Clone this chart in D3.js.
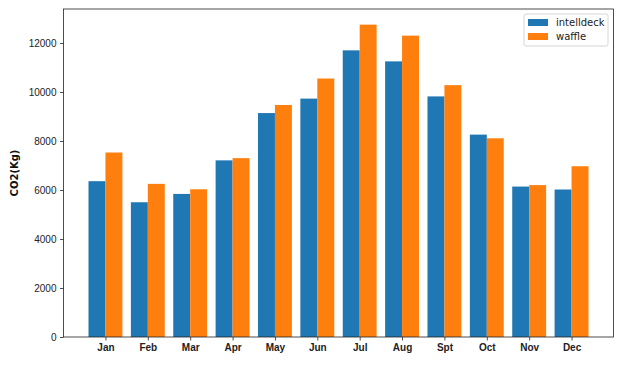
<!DOCTYPE html>
<html>
<head>
<meta charset="utf-8">
<script src="https://cdn.jsdelivr.net/npm/d3@7"></script>
<style>
  body { margin: 0; background: #fff; }
  svg { display: block; font-family: "DejaVu Sans", sans-serif; }
</style>
</head>
<body>
<div id="chart"></div>
<script>
const months = ["Jan", "Feb", "Mar", "Apr", "May", "Jun", "Jul", "Aug", "Spt", "Oct", "Nov", "Dec"];
const intelldeck = [6360, 5500, 5840, 7210, 9140, 9730, 11700, 11250, 9820, 8260, 6140, 6020];
const waffle = [7530, 6250, 6030, 7300, 9470, 10550, 12750, 12300, 10280, 8110, 6200, 6970];
const yTicks = [0, 2000, 4000, 6000, 8000, 10000, 12000];
const seriesNames = ["intelldeck", "waffle"];
const colors = ["#1f77b4", "#ff7f0e"];

const width = 625, height = 383;
const margin = { left: 63.5, right: 11.5, top: 9, bottom: 46 };
const barW = 0.4;

const svg = d3.select("#chart").append("svg")
    .attr("width", width).attr("height", height);

// matplotlib: 5% de marge autour des données
const xMin = -barW, xMax = months.length - 1 + barW;
const xPad = (xMax - xMin) * 0.05;
const x = d3.scaleLinear()
    .domain([xMin - xPad, xMax + xPad])
    .range([margin.left, width - margin.right]);

const yMaxData = d3.max(intelldeck.concat(waffle));
const y = d3.scaleLinear()
    .domain([0, yMaxData * 1.05])
    .range([height - margin.bottom, margin.top]);

const g = svg.append("g");

// --- BARRES ---
[intelldeck, waffle].forEach((vals, s) => {
    g.append("g").selectAll("rect").data(vals).join("rect")
        .attr("x", (d, i) => x(i + (s === 0 ? -barW : 0)))
        .attr("width", x(barW) - x(0))
        .attr("y", d => y(d))
        .attr("height", d => y(0) - y(d))
        .attr("fill", colors[s]);
});

// --- AXES ---
const yAxis = d3.axisLeft(y).tickValues(yTicks).tickSize(3.5).tickPadding(3.5).tickFormat(d3.format("d"));
const xAxis = d3.axisBottom(x).tickValues(d3.range(months.length)).tickSize(3.5).tickPadding(3.5)
    .tickFormat(i => months[i]);

const ya = svg.append("g").attr("transform", `translate(${margin.left},0)`).call(yAxis);
const xa = svg.append("g").attr("transform", `translate(0,${height - margin.bottom})`).call(xAxis);

[ya, xa].forEach(a => {
    a.select(".domain").remove();
    a.selectAll(".tick line").attr("stroke", "#222").attr("stroke-width", 0.8);
    a.selectAll(".tick text").attr("fill", "#222").style("font-size", "10px");
});
xa.selectAll(".tick text").style("font-weight", "bold");

// cadre
svg.append("rect")
    .attr("x", margin.left).attr("y", margin.top)
    .attr("width", width - margin.left - margin.right)
    .attr("height", height - margin.top - margin.bottom)
    .attr("fill", "none").attr("stroke", "#222").attr("stroke-width", 0.8);

// titre axe Y
svg.append("text")
    .attr("transform", `translate(18,${(margin.top + height - margin.bottom) / 2}) rotate(-90)`)
    .attr("text-anchor", "middle")
    .style("font-size", "10px").style("font-weight", "bold").attr("fill", "#111")
    .text("CO2(Kg)");

// --- LÉGENDE ---
const lx = 524, ly = 14;
const legend = svg.append("g").attr("transform", `translate(${lx},${ly})`);
legend.append("rect")
    .attr("width", 84).attr("height", 32).attr("rx", 2)
    .attr("fill", "#fff").attr("fill-opacity", 0.8)
    .attr("stroke", "#ccc").attr("stroke-width", 0.8);
seriesNames.forEach((name, i) => {
    legend.append("rect")
        .attr("x", 4).attr("y", 5 + i * 14)
        .attr("width", 20).attr("height", 7)
        .attr("fill", colors[i]);
    legend.append("text")
        .attr("x", 32).attr("y", 12 + i * 14)
        .style("font-size", "10px").attr("fill", "#222")
        .text(name);
});
</script>
</body>
</html>
